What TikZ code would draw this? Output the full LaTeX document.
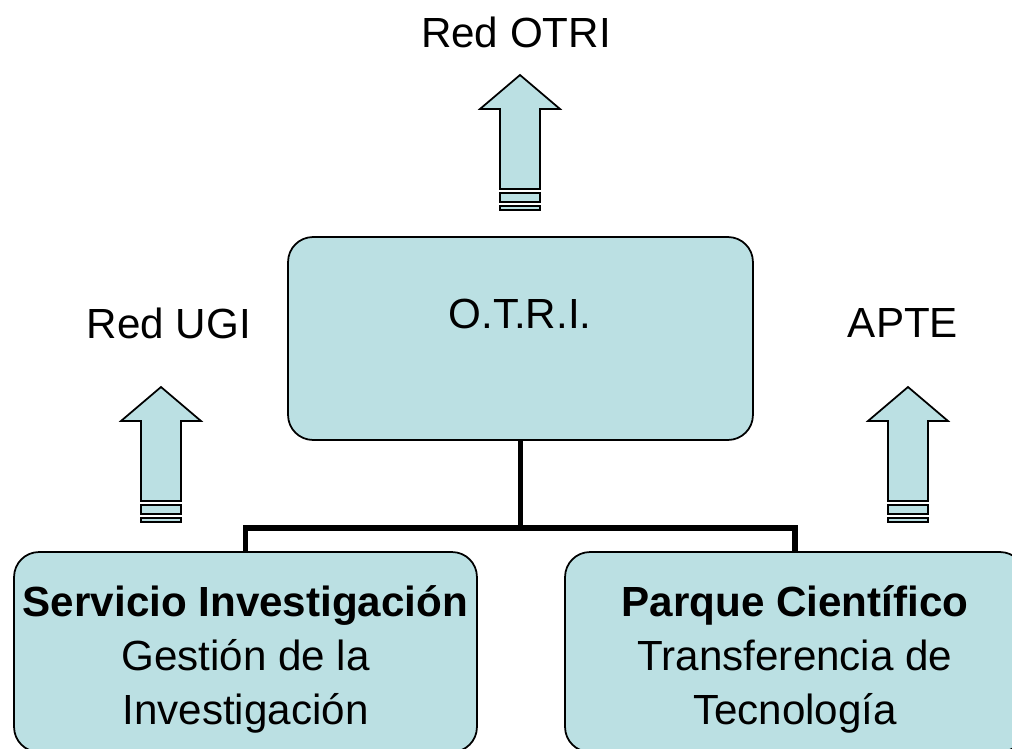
\documentclass[tikz,border=0pt]{standalone}
\usepackage{fontspec}
\setmainfont{Liberation Sans}
\usetikzlibrary{calc,positioning}
\definecolor{otblue}{HTML}{BBE0E3}
\tikzset{
  box/.style={rectangle,rounded corners=0.5cm,draw=black,fill=otblue,line width=1pt,align=center,inner sep=0pt},
  tag/.style={font=\fontsize{24}{30.5}\selectfont,text=black,inner sep=0pt},
  tree/.style={draw=black,line width=3.3pt},
  barrow/.style={draw=black,fill=otblue,line width=1pt,line join=miter},
}
\newcommand{\upblock}[2]{%
  \filldraw[barrow] (#1,#2) -- (#1+40,#2+34) -- (#1+20,#2+34) -- (#1+20,#2+114)
    -- (#1-20,#2+114) -- (#1-20,#2+34) -- (#1-40,#2+34) -- cycle;
  \filldraw[barrow] (#1-20,#2+118) rectangle (#1+20,#2+127);
  \filldraw[barrow] (#1-20,#2+131) rectangle (#1+20,#2+135);
}
\begin{document}
\begin{tikzpicture}[x=0.02cm,y=-0.02cm,font=\fontsize{24}{30.5}\selectfont]
  \useasboundingbox (0,0) rectangle (1012,748);

  % ---------------- boxes ----------------
  \node[box,minimum width=9.3cm,minimum height=4.06cm] (otri) at (520.5,338.5) {};
  \node[tag,anchor=base] (otrit) at (520,328) {O.T.R.I.};
  \node[box,minimum width=9.26cm,minimum height=4cm] (sinv) at (245.5,652)
    {\rule{0pt}{26pt}\textbf{Servicio Investigación}\\Gestión de la\\Investigación};
  \node[box,minimum width=9.2cm,minimum height=4cm] (pcien) at (795,652)
    {\rule{0pt}{26pt}\textbf{Parque Científico}\\Transferencia de\\Tecnología};

  % ---------------- tree lines ----------------
  \coordinate (bar) at (0,528);
  \draw[tree] (otri.south) -- (otri.south |- bar);
  \draw[tree] (sinv.north) |- (pcien.north |- bar) -- (pcien.north);

  % ---------------- outer labels + arrows ----------------
  \node[tag,anchor=base] (rotri) at (516,47) {Red OTRI};
  \node[tag,anchor=base] (rugi) at (169,338) {Red UGI};
  \node[tag,anchor=base] (apte) at (903,337) {APTE};
  \foreach \ax/\ay in {520/75, 161/387, 908/387}{
    \upblock{\ax}{\ay}
  }
\end{tikzpicture}
\end{document}
